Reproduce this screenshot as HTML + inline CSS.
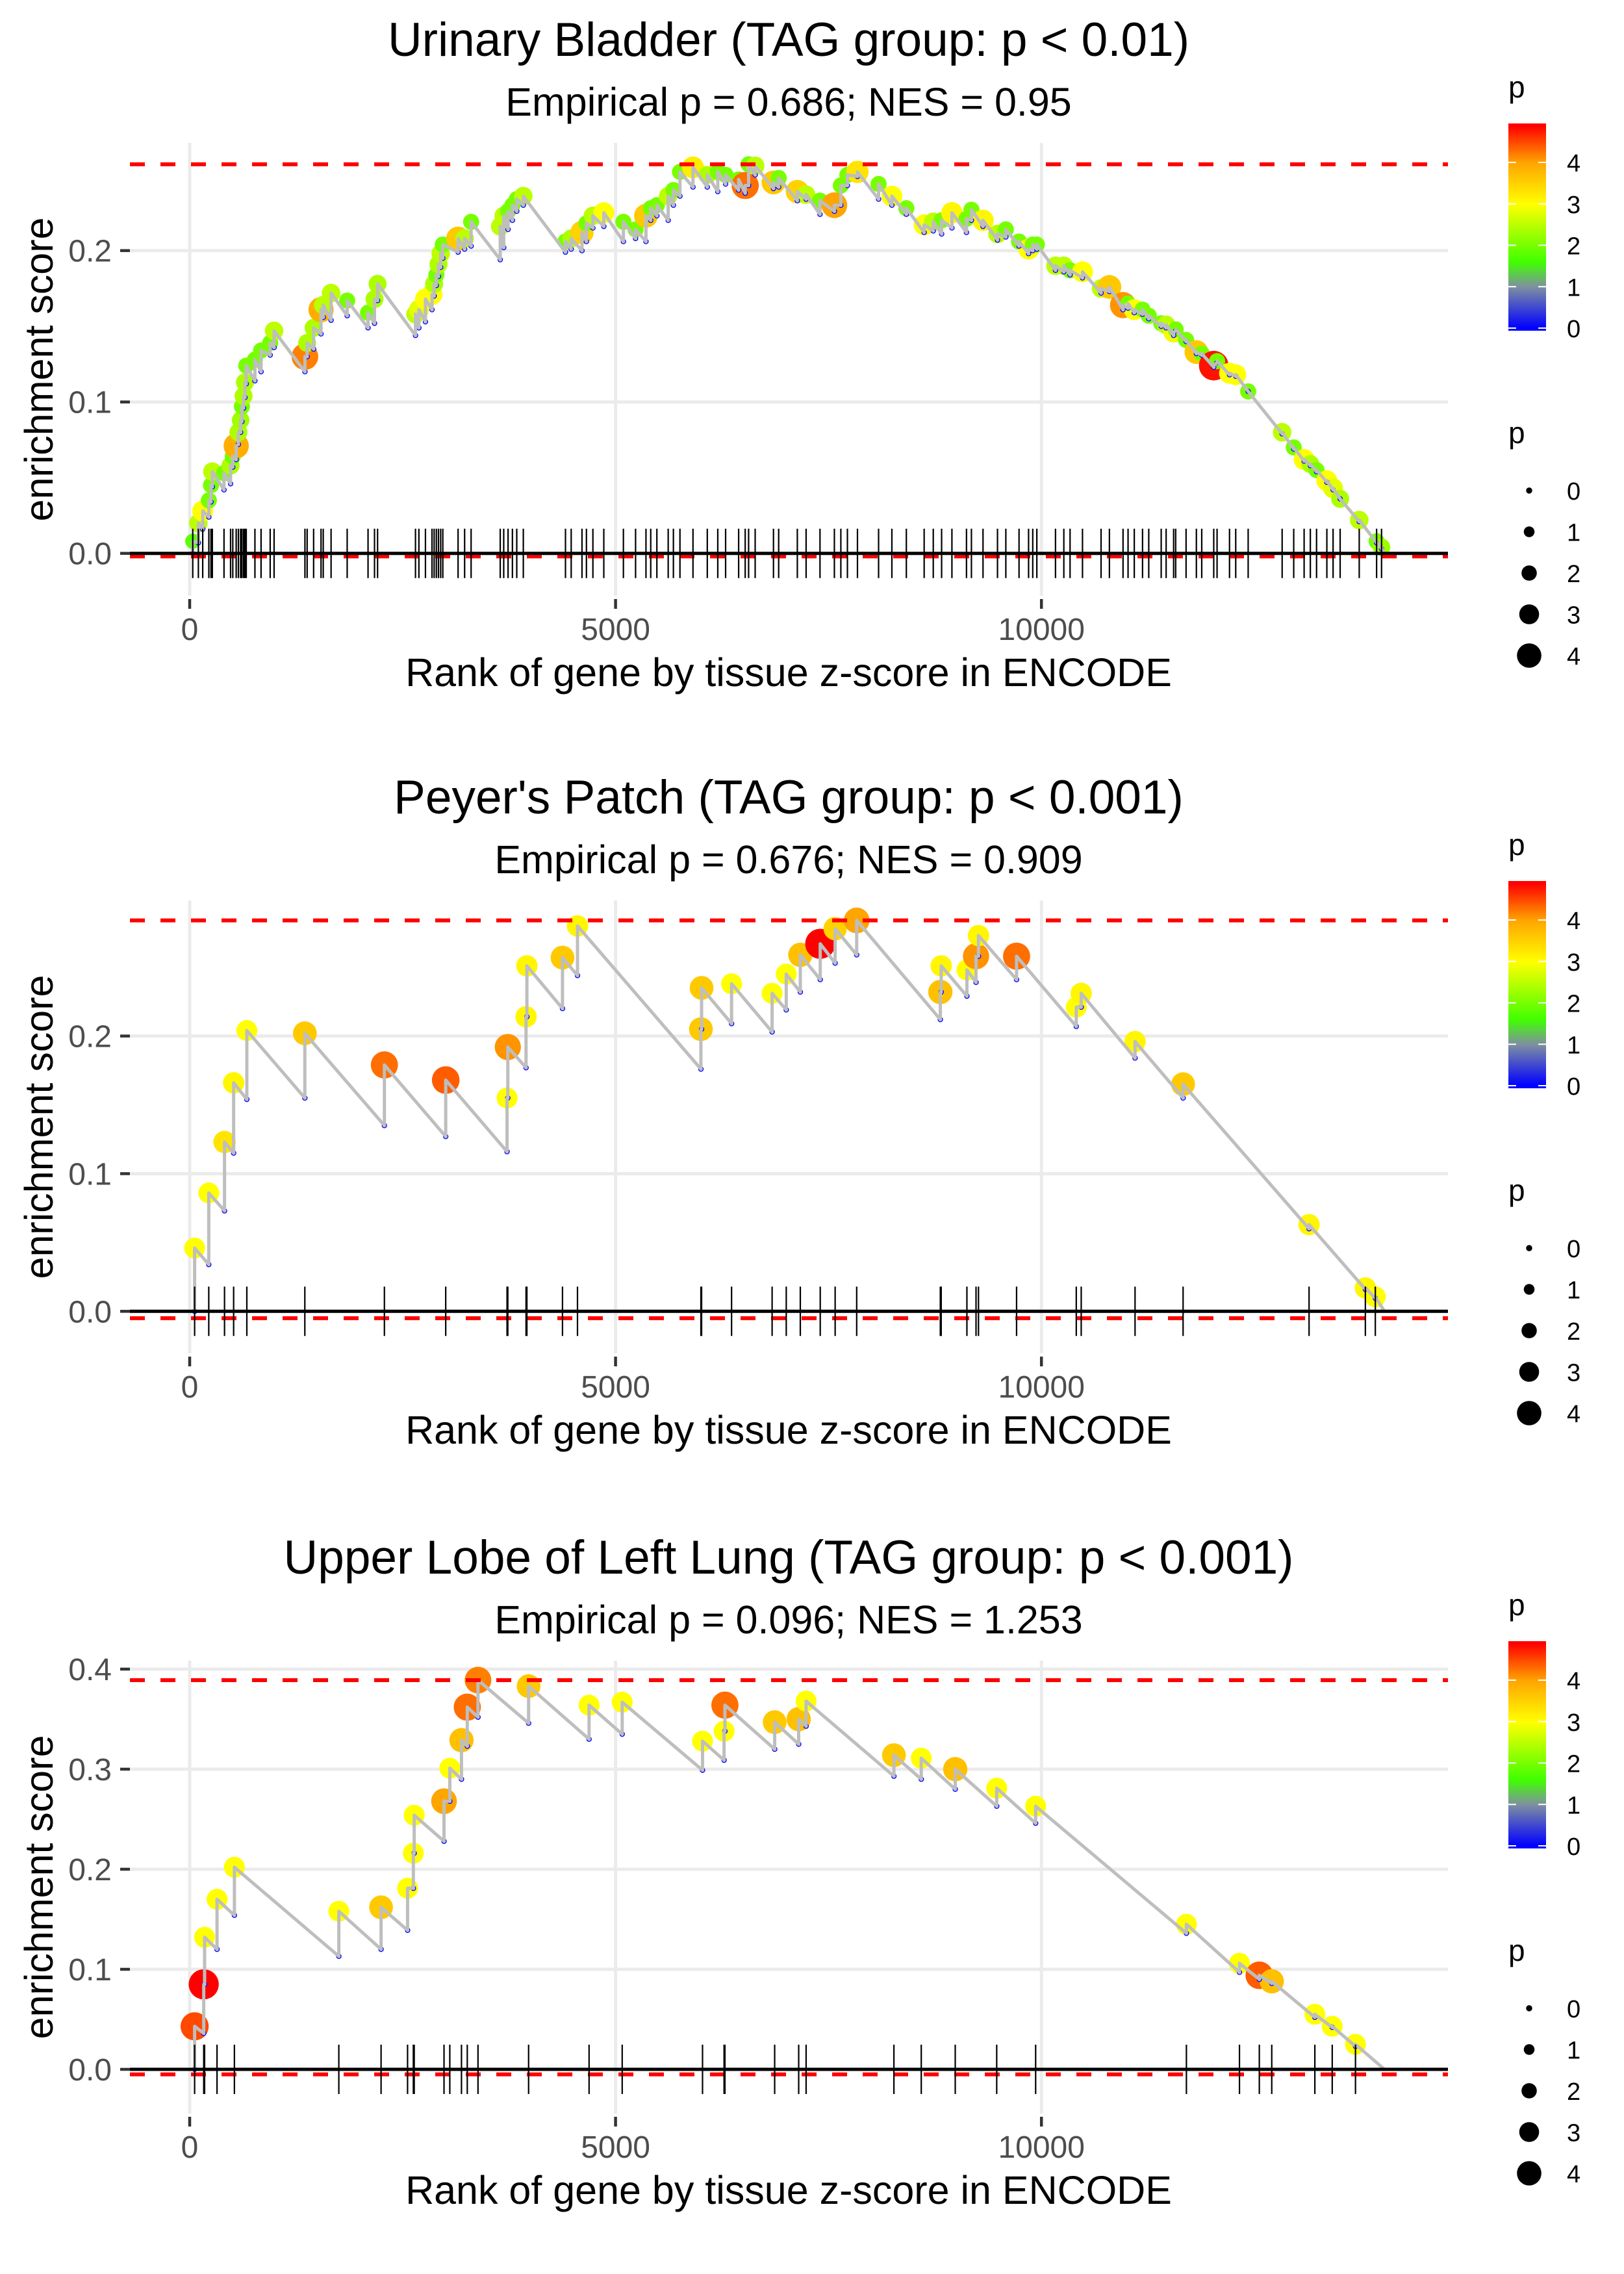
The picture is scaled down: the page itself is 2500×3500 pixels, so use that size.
<!DOCTYPE html>
<html><head><meta charset="utf-8"><title>Enrichment plots</title>
<style>
html,body{margin:0;padding:0;background:#fff;}
svg{display:block;}
text{font-family:"Liberation Sans",Arial,sans-serif;}
</style></head>
<body>
<svg id="chart" xmlns="http://www.w3.org/2000/svg" width="2500" height="3500" viewBox="0 0 2500 3500"></svg>
<script>
// ===== Panel 1 : Urinary Bladder =====
const p1Rank=[36,102,153,225,250,266,403,480,506,546,572,598,613,633,649,664,766,838,945,991,1353,1379,1455,1542,1568,1660,1849,2094,2170,2206,2651,2691,2768,2845,2870,2896,2921,2947,2972,3151,3228,3304,3646,3687,3738,3789,3840,3917,4412,4479,4606,4658,4734,4862,5092,5235,5357,5413,5485,5618,5679,5756,5909,6077,6200,6292,6445,6522,6562,6639,6854,6915,7134,7237,7400,7569,7645,7722,7840,8088,8244,8414,8623,8730,8828,8949,9120,9178,9314,9484,9582,9737,9849,9898,9946,10165,10263,10336,10482,10700,10798,10958,11017,11090,11187,11260,11406,11464,11552,11576,11698,11819,11882,12023,12062,12208,12281,12427,12826,12962,13084,13157,13230,13351,13424,13507,13731,13935,13993];
const p1Valley=[0,.007,.016,.024,.034,.044,.042,.046,.057,.062,.072,.080,.087,.096,.103,.112,.114,.120,.131,.136,.120,.130,.135,.145,.156,.154,.157,.149,.152,.167,.144,.149,.153,.161,.170,.177,.183,.189,.195,.199,.201,.203,.194,.202,.214,.220,.226,.230,.199,.201,.200,.206,.215,.216,.206,.208,.206,.220,.223,.220,.230,.236,.242,.242,.239,.244,.240,.238,.243,.250,.241,.242,.233,.234,.224,.226,.230,.243,.249,.234,.230,.224,.212,.213,.211,.215,.212,.220,.216,.207,.209,.203,.198,.200,.201,.187,.186,.184,.182,.172,.173,.161,.162,.159,.158,.155,.150,.149,.144,.147,.140,.132,.131,.123,.126,.118,.117,.107,.079,.069,.061,.058,.054,.047,.042,.036,.021,.007,.003];
const p1Peak=[.008,.020,.028,.035,.045,.054,.053,.058,.064,.071,.080,.088,.097,.104,.113,.124,.128,.134,.139,.147,.130,.139,.149,.161,.164,.172,.167,.159,.168,.178,.158,.161,.168,.171,.178,.184,.191,.198,.204,.208,.208,.219,.216,.223,.226,.230,.234,.236,.206,.208,.212,.218,.223,.225,.219,.214,.223,.228,.230,.236,.240,.252,.255,.250,.252,.250,.247,.243,.257,.256,.245,.248,.239,.237,.233,.230,.243,.250,.252,.244,.236,.228,.217,.219,.220,.225,.221,.227,.220,.211,.214,.206,.201,.204,.204,.190,.190,.187,.186,.175,.176,.164,.165,.161,.161,.157,.152,.151,.146,.148,.141,.133,.132,.124,.127,.119,.118,.107,.080,.070,.062,.059,.055,.048,.043,.036,.022,.008,.004];
const p1P=[1.8,2.5,3.0,2.0,2.0,2.5,2.0,2.4,2.0,3.9,2.4,2.3,2.0,2.4,2.4,2.0,2.0,2.0,2.0,2.5,4.2,2.4,2.4,3.9,2.5,2.5,2.0,2.0,2.4,2.4,2.5,2.8,3.0,3.0,2.4,2.0,2.4,2.5,2.0,3.6,2.5,2.0,2.5,2.5,2.0,2.0,2.0,2.5,2.0,2.4,3.5,2.0,2.5,3.0,2.0,2.0,3.6,2.0,2.0,2.5,2.0,2.0,3.2,2.4,2.0,2.0,2.0,4.3,2.0,2.5,3.6,2.0,3.5,2.5,2.0,4.0,2.0,2.0,3.3,2.0,3.0,2.0,3.0,2.5,2.0,3.1,2.0,2.0,3.1,2.5,2.0,2.0,3.0,2.0,2.0,2.5,2.5,2.0,3.0,2.5,3.6,4.1,2.0,3.0,2.0,2.0,2.0,2.5,2.9,2.0,2.0,3.6,2.0,4.8,2.0,3.0,3.0,2.0,2.5,2.0,3.0,2.4,2.0,3.0,2.8,2.4,2.5,2.0,2.3];
// ===== Panel 2 : Peyer's Patch =====
const p2Rank=[58,224,409,516,671,1352,2286,3006,3726,3735,3949,3959,4377,4553,6002,6010,6362,6838,7004,7169,7403,7578,7831,8813,8823,9125,9232,9261,9708,10409,10467,11099,11663,13142,13803,13920];
const p2Valley=[0,.034,.073,.115,.154,.155,.135,.127,.116,.155,.177,.214,.220,.244,.176,.205,.209,.203,.219,.232,.241,.253,.259,.212,.232,.229,.239,.258,.241,.207,.221,.184,.155,.060,.016,.0095];
const p2Peak=[.046,.086,.123,.166,.204,.202,.179,.168,.155,.192,.214,.251,.257,.280,.205,.235,.238,.231,.245,.259,.267,.278,.284,.232,.251,.248,.258,.273,.258,.221,.231,.196,.165,.063,.017,.0105];
const p2P=[3.0,3.0,3.3,3.1,3.0,3.6,4.3,4.4,3.0,4.1,3.1,3.1,3.6,3.1,3.6,3.6,3.0,3.0,3.0,3.7,4.9,3.5,4.0,3.7,3.1,3.0,4.1,3.1,4.3,3.0,3.1,3.1,3.6,3.1,3.1,3.0];
// ===== Panel 3 : Upper Lobe of Left Lung =====
const p3Rank=[58,165,175,321,525,1751,2247,2558,2626,2636,2986,3054,3191,3259,3385,3979,4689,5078,6021,6274,6284,6868,7150,7237,8268,8589,8988,9475,9932,11702,12325,12558,12704,13210,13414,13687];
const p3Valley=[0,.036,.085,.120,.154,.113,.120,.139,.181,.216,.228,.268,.290,.323,.352,.346,.330,.335,.299,.309,.338,.320,.325,.343,.293,.290,.280,.263,.246,.136,.097,.090,.086,.052,.042,.023];
const p3Peak=[.043,.085,.132,.170,.202,.158,.162,.181,.216,.254,.268,.301,.329,.362,.389,.383,.364,.367,.328,.338,.364,.347,.350,.368,.314,.311,.300,.281,.263,.145,.106,.094,.088,.055,.043,.025];
const p3P=[4.5,4.9,3.0,3.0,3.0,3.0,3.6,3.0,3.0,3.0,4.0,3.0,3.7,4.3,4.2,3.6,3.0,3.0,3.0,3.0,4.3,3.6,3.7,3.0,3.6,3.0,3.7,3.0,3.0,3.0,3.0,4.4,3.7,3.0,3.0,3.0];
// shared data
const endRanks=[14022,14027,14027];
const minES=[-0.002,-0.005,-0.005];
const xTicks=[0,5000,10000];
const yTicksList=[[0,0.1,0.2],[0,0.1,0.2],[0,0.1,0.2,0.3,0.4]];
const titles=["Urinary Bladder (TAG group: p < 0.01)","Peyer's Patch (TAG group: p < 0.001)","Upper Lobe of Left Lung (TAG group: p < 0.001)"];
const subtitles=["Empirical p = 0.686; NES = 0.95","Empirical p = 0.676; NES = 0.909","Empirical p = 0.096; NES = 1.253"];
const legendValues=[0,1,2,3,4];

const NS="http://www.w3.org/2000/svg";
const svg=document.getElementById('chart');
function mk(tag,attrs,parent){const e=document.createElementNS(NS,tag);for(const k in attrs)e.setAttribute(k,attrs[k]);(parent||svg).appendChild(e);return e;}
const stops=[[0,[0,0,255]],[1,[127,143,160]],[1.6,[64,255,0]],[3,[255,255,0]],[4,[255,165,0]],[4.9,[255,0,0]]];
function colorOf(p){
  if(p<=stops[0][0])return 'rgb(0,0,255)';
  for(let i=1;i<stops.length;i++){if(p<=stops[i][0]){const a=stops[i-1],b=stops[i];const t=(p-a[0])/(b[0]-a[0]);const c=a[1].map((v,j)=>Math.round(v+(b[1][j]-v)*t));return 'rgb('+c.join(',')+')';}}
  return 'rgb(255,0,0)';
}
function radiusOf(p){return 5+3.7*p;}
const xLeft=200,xRight=2229;
function xScale(r){return 292+r*0.13112;}
const panels=[
 {rank:p1Rank,valley:p1Valley,peak:p1Peak,p:p1P,off:0,zero:851.7,per:2330,top:220,bottom:917},
 {rank:p2Rank,valley:p2Valley,peak:p2Peak,p:p2P,off:1166,zero:2018.3,per:2118.5,top:1386,bottom:2083},
 {rank:p3Rank,valley:p3Valley,peak:p3Peak,p:p3P,off:2336,zero:3185,per:1540,top:2556,bottom:3253}
];
panels.forEach((P,i)=>{
  const g=mk('g',{});
  
  
  const yS=v=>P.zero-v*P.per;
  const o=P.off;
  const t=mk('text',{x:1214,y:86+o,'text-anchor':'middle','font-size':73,fill:'#000'},g);t.textContent=titles[i];
  
  
  const st=mk('text',{x:1214,y:178+o,'text-anchor':'middle','font-size':61,fill:'#000'},g);st.textContent=subtitles[i];
  
  
  const grid=mk('g',{stroke:'#ebebeb','stroke-width':5},g);
  
  
  yTicksList[i].forEach(v=>{mk('line',{x1:xLeft,x2:xRight,y1:yS(v),y2:yS(v)},grid);});
  xTicks.forEach(r=>{mk('line',{x1:xScale(r),x2:xScale(r),y1:P.top,y2:P.bottom},grid);});
  yTicksList[i].forEach(v=>{
    const tk=mk('line',{x1:185,x2:200,y1:yS(v),y2:yS(v),stroke:'#333','stroke-width':4.5},g);
    
    
    const l=mk('text',{x:172,y:yS(v)+17,'text-anchor':'end','font-size':48,fill:'#4d4d4d'},g);l.textContent=v.toFixed(1);
    
    
  });
  xTicks.forEach(r=>{
    const tk=mk('line',{x1:xScale(r),x2:xScale(r),y1:P.bottom+5,y2:P.bottom+20,stroke:'#333','stroke-width':4.5},g);
    
    
    const l=mk('text',{x:xScale(r),y:P.bottom+68,'text-anchor':'middle','font-size':48,fill:'#4d4d4d'},g);l.textContent=String(r);
    
    
  });
  const xt=mk('text',{x:1214,y:1056+o,'text-anchor':'middle','font-size':61,fill:'#000'},g);xt.textContent='Rank of gene by tissue z-score in ENCODE';
  
  
  const yc=(P.top+P.bottom)/2;
  const yt=mk('text',{x:60,y:yc,'text-anchor':'middle','dominant-baseline':'central','font-size':61,fill:'#000',transform:'rotate(-90 60 '+yc+')'},g);yt.textContent='enrichment score';
  
  
  const pts=mk('g',{},g);
  
  
  P.rank.forEach((r,k)=>{
    const c=mk('circle',{cx:xScale(r),cy:yS(P.peak[k]),r:radiusOf(P.p[k]),fill:colorOf(P.p[k])},pts);
    
    
  });
  P.rank.forEach((r,k)=>{
    const c=mk('circle',{cx:xScale(r),cy:yS(P.valley[k]),r:3.5,fill:'#d0d0ff',stroke:'#0000ff','stroke-width':1.3},pts);
    
    
  });
  let d='M'+xScale(0)+','+yS(0);
  P.rank.forEach((r,k)=>{d+=' L'+xScale(r)+','+yS(P.valley[k])+' L'+xScale(r)+','+yS(P.peak[k]);});
  d+=' L'+xScale(endRanks[i])+','+yS(0);
  const path=mk('path',{d:d,fill:'none',stroke:'#bebebe','stroke-width':5,'stroke-linejoin':'round'},g);
  
  
  const maxES=Math.max(...P.peak);
  [maxES,minES[i]].forEach((v,j)=>{
    const ln=mk('line',{x1:xLeft,x2:xRight,y1:yS(v),y2:yS(v),stroke:'#ff0000','stroke-width':6,'stroke-dasharray':'23 24'},g);
    
    
  });
  const rug=mk('g',{stroke:'#000','stroke-width':2.2},g);
  
  
  P.rank.forEach(r=>{mk('line',{x1:xScale(r),x2:xScale(r),y1:P.zero-38,y2:P.zero+38},rug);});
  const zl=mk('line',{x1:xLeft,x2:xRight,y1:P.zero,y2:P.zero,stroke:'#000','stroke-width':5},g);
  
  
  const lg=mk('g',{},g);
  
  
  const lt=mk('text',{x:2322,y:150+o,'font-size':46,fill:'#000'},lg);lt.textContent='p';
  const gid='grad'+i;
  const defs=mk('defs',{},lg);
  const gr=mk('linearGradient',{id:gid,x1:0,y1:0,x2:0,y2:1},defs);
  const vTop=4.96,vBot=-0.06;
  [[4.96,[255,0,0]]].concat(stops.slice().reverse()).forEach(s=>{
    const off=(vTop-s[0])/(vTop-vBot);
    mk('stop',{offset:Math.max(0,off),'stop-color':'rgb('+s[1].join(',')+')'},gr);
  });
  mk('stop',{offset:1,'stop-color':'rgb(0,0,255)'},gr);
  mk('rect',{x:2322,y:190+o,width:58,height:319,fill:'url(#'+gid+')'},lg);
  legendValues.forEach(v=>{
    const yy=505+o-v*63.75;
    mk('line',{x1:2322,x2:2334,y1:yy,y2:yy,stroke:'#fff','stroke-width':2},lg);
    mk('line',{x1:2368,x2:2380,y1:yy,y2:yy,stroke:'#fff','stroke-width':2},lg);
    const tl=mk('text',{x:2412,y:yy+14,'font-size':38,fill:'#000'},lg);tl.textContent=String(v);
  });
  const sg=mk('g',{},g);
  
  
  const st2=mk('text',{x:2322,y:682+o,'font-size':46,fill:'#000'},sg);st2.textContent='p';
  legendValues.forEach((v,k)=>{
    const yy=755+o+k*63.5;
    mk('circle',{cx:2354,cy:yy,r:radiusOf(v)*0.95,fill:'#000'},sg);
    const tl=mk('text',{x:2412,y:yy+14,'font-size':38,fill:'#000'},sg);tl.textContent=String(v);
  });
});
</script>
</body></html>
